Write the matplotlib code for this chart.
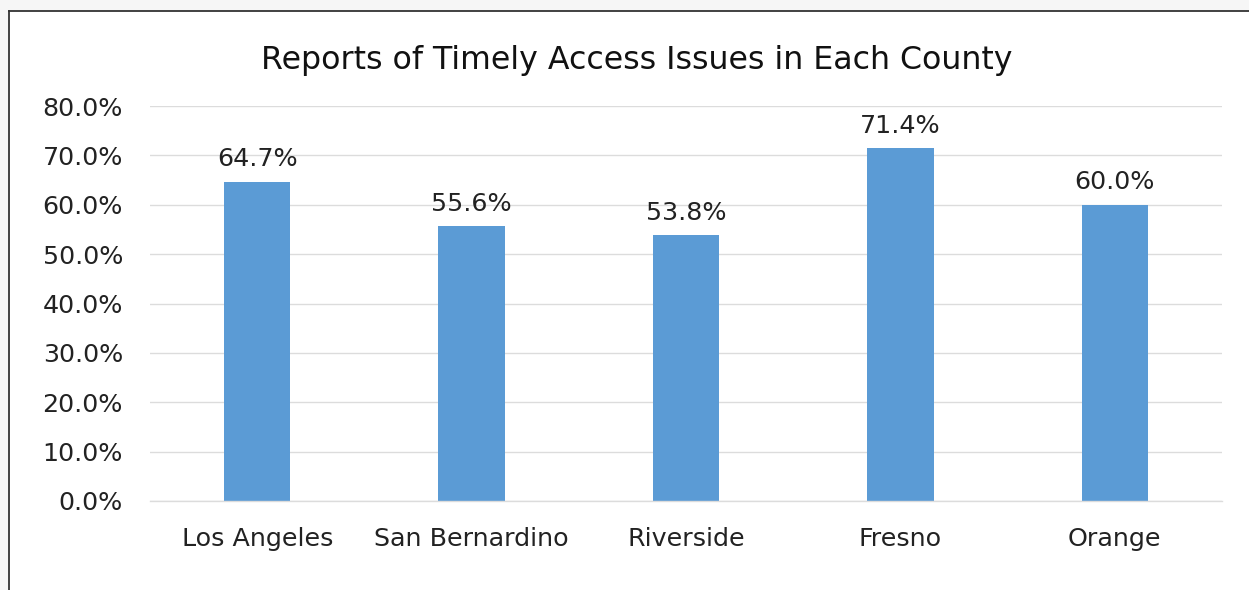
import matplotlib.pyplot as plt
from matplotlib.patches import Rectangle
from matplotlib.lines import Line2D
from matplotlib.ticker import FuncFormatter

counties = ['Los Angeles', 'San Bernardino', 'Riverside', 'Fresno', 'Orange']
pct = [64.7, 55.6, 53.8, 71.4, 60.0]
yticks = [0, 10, 20, 30, 40, 50, 60, 70, 80]

W, H = 1249, 590
fig = plt.figure(figsize=(W / 100, H / 100), dpi=100)
fig.patch.set_facecolor('white')
plt.rcParams['font.family'] = ['DejaVu Sans']

# screenshot surround: grey strip top/left and the dark frame line
fig.add_artist(Rectangle((0, 1 - 11 / H), 1, 11 / H, transform=fig.transFigure,
                         facecolor='#f6f6f6', edgecolor='none'))
fig.add_artist(Rectangle((0, 0), 8 / W, 1, transform=fig.transFigure,
                         facecolor='#f6f6f6', edgecolor='none'))
fig.add_artist(Line2D([8.5 / W, 1], [1 - 11 / H, 1 - 11 / H], transform=fig.transFigure,
                      color='#333333', linewidth=1.3))
fig.add_artist(Line2D([8.5 / W, 8.5 / W], [0, 1 - 11 / H], transform=fig.transFigure,
                      color='#333333', linewidth=1.3))

ax = fig.add_axes([150 / W, 1 - 501 / H, (1222 - 150) / W, (501 - 106) / H])
x = range(len(counties))
bars = ax.bar(x, pct, width=0.31, color='#5b9bd5', zorder=2)

ax.set_xlim(-0.5, len(counties) - 0.5)
ax.set_ylim(0, 80)
ax.set_yticks(yticks)
ax.yaxis.set_major_formatter(FuncFormatter(lambda v, p: f'{v:.1f}%'))
ax.set_xticks(list(x))
ax.set_xticklabels(counties)
ax.tick_params(axis='both', length=0, labelsize=18.3, colors='#222222')
ax.tick_params(axis='y', pad=19.5)
ax.tick_params(axis='x', pad=18.5)

ax.grid(axis='y', color='#dcdcdc', linewidth=1.0, zorder=0)
for s in ['top', 'right', 'left']:
    ax.spines[s].set_visible(False)
ax.spines['bottom'].set_color('#dcdcdc')
ax.spines['bottom'].set_linewidth(1.0)

for b, v in zip(bars, pct):
    ax.annotate(f'{v:.1f}%', (b.get_x() + b.get_width() / 2, v),
                xytext=(0, 7.5), textcoords='offset points',
                ha='center', va='bottom', fontsize=18.3, color='#222222')

fig.text(637 / W, 1 - 60 / H, 'Reports of Timely Access Issues in Each County',
         ha='center', va='center', fontsize=22.8, color='#111111')

fig.savefig('out.png', dpi=100)
